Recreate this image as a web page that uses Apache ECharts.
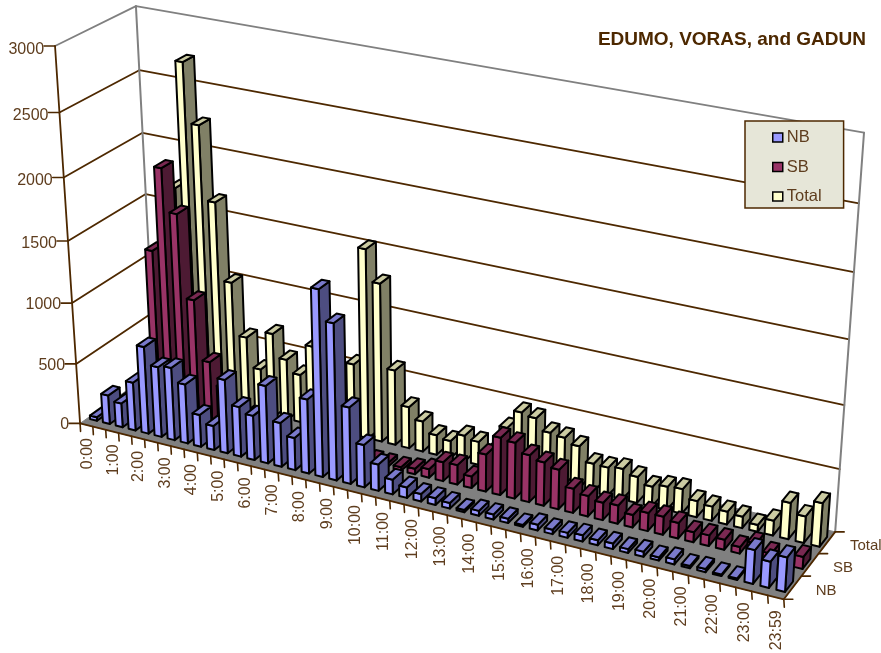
<!DOCTYPE html>
<html>
<head>
<meta charset="utf-8">
<script src="https://cdn.jsdelivr.net/npm/echarts@6/dist/echarts.min.js"></script>
<style>html,body{margin:0;padding:0;background:#fff}#main{width:881px;height:653px}</style>
</head>
<body>
<div id="main"></div>
<script>
var categories = ['0:00','0:30','1:00','1:30','2:00','2:30','3:00','3:30','4:00','4:30','5:00','5:30','6:00','6:30','7:00','7:30','8:00','8:30','9:00','9:30','10:00','10:30','11:00','11:30','12:00','12:30','13:00','13:30','14:00','14:30','15:00','15:30','16:00','16:30','17:00','17:30','18:00','18:30','19:00','19:30','20:00','20:30','21:00','21:30','22:00','22:30','23:00','23:30','23:59'];
var depthLabels = ['NB','SB','Total'];
var valueTicks = [0,500,1000,1500,2000,2500,3000];

var nbValues = [30,240,200,400,720,580,600,490,265,200,605,410,365,635,360,265,605,1500,1260,620,345,215,120,85,60,55,45,18,40,40,35,15,45,35,40,50,40,45,30,40,25,40,18,25,12,12,264,205,268];
var sbValues = [10,20,305,1340,2020,1680,1010,525,340,150,80,70,30,25,30,30,30,50,60,30,30,30,45,70,155,160,95,302,465,452,380,350,320,195,165,140,147,100,145,145,125,80,85,80,52,110,60,20,95];
var totalValues = [30,130,505,1720,2730,2260,1670,1040,610,368,690,500,400,660,390,300,590,1545,1295,617,342,250,162,142,213,190,135,360,512,492,402,389,347,233,230,247,211,160,188,198,130,115,103,92,55,119,290,212,346];

var textColor = '#5E3D1E';
var lineColor = '#4D2800';
var wallColor = '#808080';
var floorColor = '#808080';
var fontName = 'Liberation Sans, Arial, sans-serif';

// box corners on screen, used to fit the perspective
var corners = [
    [0,0,0,79,421],[1,0,0,784,601],[0,0,1,156,373],[1,0,1,835,530],
    [0,1,0,56,47],[0,1,1,135,5],[1,1,1,864,133]
];

function solve(A, b) {
    var n = b.length, i, j, k;
    for (i = 0; i < n; i++) {
        var p = i;
        for (j = i + 1; j < n; j++) if (Math.abs(A[j][i]) > Math.abs(A[p][i])) p = j;
        var t = A[i]; A[i] = A[p]; A[p] = t;
        t = b[i]; b[i] = b[p]; b[p] = t;
        for (j = i + 1; j < n; j++) {
            var f = A[j][i] / A[i][i];
            for (k = i; k < n; k++) A[j][k] -= f * A[i][k];
            b[j] -= f * b[i];
        }
    }
    var x = [];
    for (i = n - 1; i >= 0; i--) {
        var s = b[i];
        for (k = i + 1; k < n; k++) s -= A[i][k] * x[k];
        x[i] = s / A[i][i];
    }
    return x;
}

function fitCamera(pts) {
    var rows = [], rhs = [];
    pts.forEach(function (c) {
        rows.push([c[0], c[1], c[2], 1, 0, 0, 0, 0, -c[3] * c[0], -c[3] * c[1], -c[3] * c[2]]);
        rhs.push(c[3]);
        rows.push([0, 0, 0, 0, c[0], c[1], c[2], 1, -c[4] * c[0], -c[4] * c[1], -c[4] * c[2]]);
        rhs.push(c[4]);
    });
    var N = [], v = [];
    for (var i = 0; i < 11; i++) {
        N.push([]);
        v.push(0);
        for (var j = 0; j < 11; j++) {
            var s = 0;
            rows.forEach(function (r) { s += r[i] * r[j]; });
            N[i].push(s);
        }
        rows.forEach(function (r, k) { v[i] += r[i] * rhs[k]; });
    }
    return solve(N, v);
}
var cam = fitCamera(corners);

// u along time, h up, d into the chart; all 0..1
function project(u, h, d) {
    var w = cam[8] * u + cam[9] * h + cam[10] * d + 1;
    return [
        (cam[0] * u + cam[1] * h + cam[2] * d + cam[3]) / w,
        (cam[4] * u + cam[5] * h + cam[6] * d + cam[7]) / w
    ];
}

// hidden grid that supplies the scales
var G = { left: 0, top: 0, width: 490, height: 300 };

function poly(points, fill, stroke, lw) {
    return {
        type: 'polygon',
        shape: { points: points },
        style: { fill: fill, stroke: stroke, lineWidth: lw, lineJoin: 'round' }
    };
}
function seg(a, b, color, lw) {
    return {
        type: 'line',
        shape: { x1: a[0], y1: a[1], x2: b[0], y2: b[1] },
        style: { stroke: color, lineWidth: lw, lineCap: 'round' }
    };
}
function label(text, x, y, align, rot, size) {
    return {
        type: 'text',
        x: x, y: y, rotation: rot || 0,
        style: {
            text: text, fill: textColor, fontSize: size || 16,
            fontFamily: fontName,
            align: align, verticalAlign: 'middle'
        }
    };
}

function barRenderer(slot, front, side, top) {
    return function (params, api) {
        var i = api.value(0), v = api.value(1);
        var c = api.coord([i, v]);
        var band = api.size([1, 0])[0];
        var h = (G.top + G.height - c[1]) / G.height;
        var uc = (c[0] - G.left) / G.width;
        var du = band / G.width * 0.27;
        var u0 = uc - du, u1 = uc + du;
        var mid = (slot + 0.5) / depthLabels.length;
        var d0 = mid - 0.075, d1 = mid + 0.075;
        var a = project(u0, 0, d0), b = project(u1, 0, d0), e = project(u1, 0, d1);
        var at = project(u0, h, d0), bt = project(u1, h, d0), et = project(u1, h, d1), ft = project(u0, h, d1);
        return {
            type: 'group',
            children: [
                poly([b, e, et, bt], side, '#000', 2),
                poly([a, b, bt, at], front, '#000', 2),
                poly([at, bt, et, ft], top, '#000', 2)
            ]
        };
    };
}

function renderFrame(params, api) {
    var kids = [];
    // floor
    kids.push(poly([project(0,0,0), project(1,0,0), project(1,0,1), project(0,0,1)], floorColor, floorColor, 1));
    // gridlines on both walls
    valueTicks.forEach(function (t) {
        var h = (G.top + G.height - api.coord([0, t])[1]) / G.height;
        var col = t === 3000 ? wallColor : lineColor;
        if (t > 0) {
            kids.push(seg(project(0,h,0), project(0,h,1), col, 1.8));
            kids.push(seg(project(0,h,1), project(1,h,1), col, 1.8));
        }
    });
    kids.push(seg(project(0,0,1), project(0,1,1), wallColor, 2));
    kids.push(seg(project(1,0,1), project(1,1,1), wallColor, 2));
    // value axis
    kids.push(seg(project(0,0,0), project(0,1,0), lineColor, 1.8));
    valueTicks.forEach(function (t) {
        var h = (G.top + G.height - api.coord([0, t])[1]) / G.height;
        var p = project(0, h, 0);
        kids.push(seg([p[0] - 11, p[1]], p, lineColor, 1.6));
        kids.push(label(String(t), p[0] - 11, p[1] + 1 + 2.5 * h, 'right'));
    });
    // time axis
    kids.push(seg(project(0,0,0), project(1,0,0), lineColor, 1.8));
    for (var i = 0; i <= categories.length; i++) {
        var p = project(i / categories.length, 0, 0);
        kids.push(seg(p, [p[0] + 0.5, p[1] + 8], lineColor, 1.6));
    }
    categories.forEach(function (c, i) {
        if (i % 2 === 0) {
            var q = project((i + 0.5) / categories.length, 0, 0);
            kids.push(label(c, q[0] + 1, q[1] + 13, 'right', Math.PI / 2));
        }
    });
    // depth axis
    kids.push(seg(project(1,0,0), project(1,0,1), lineColor, 1.8));
    for (var k = 0; k <= depthLabels.length; k++) {
        var r = project(1, 0, k / depthLabels.length);
        kids.push(seg(r, [r[0] + 9, r[1]], lineColor, 1.6));
    }
    depthLabels.forEach(function (n, k) {
        var s = project(1, 0, (k + 0.5) / depthLabels.length);
        kids.push(label(n, s[0] + 23, s[1] + 3, 'left', 0, 15));
    });
    return { type: 'group', children: kids };
}

function pairs(values) {
    return values.map(function (v, i) { return [i, v]; });
}

var myChart = echarts.init(document.getElementById('main'));
var option = {
    animation: false,
    backgroundColor: '#fff',
    title: {
        text: 'EDUMO, VORAS, and GADUN',
        right: 10, top: 25,
        textStyle: { color: '#4D2800', fontSize: 19, fontWeight: 'bold', fontFamily: fontName }
    },
    legend: {
        data: depthLabels,
        orient: 'vertical',
        left: 745, top: 121,
        padding: [8, 22, 3, 27],
        itemGap: 12.5,
        itemWidth: 10, itemHeight: 9,
        icon: 'rect',
        selectedMode: false,
        backgroundColor: '#E6E6D8',
        borderColor: lineColor,
        borderWidth: 1.5,
        itemStyle: { borderColor: '#000', borderWidth: 1.5 },
        textStyle: { color: textColor, fontSize: 16.5, padding: [3, 0, 0, -1], fontFamily: fontName }
    },
    grid: G,
    xAxis: { type: 'category', data: categories, show: false },
    yAxis: { type: 'value', min: 0, max: 3000, interval: 500, show: false },
    series: [
        { type: 'custom', name: 'frame', coordinateSystem: 'cartesian2d', data: [[0, 0]], renderItem: renderFrame, silent: true, clip: false, z: 1 },
        { type: 'custom', name: 'Total', data: pairs(totalValues), renderItem: barRenderer(2, '#FFFFCC', '#808066', '#CCCCA3'), itemStyle: { color: '#FFFFCC' }, clip: false, z: 2 },
        { type: 'custom', name: 'SB', data: pairs(sbValues), renderItem: barRenderer(1, '#993366', '#4D1A33', '#7A2952'), itemStyle: { color: '#993366' }, clip: false, z: 3 },
        { type: 'custom', name: 'NB', data: pairs(nbValues), renderItem: barRenderer(0, '#9999FF', '#4D4D80', '#7A7ACC'), itemStyle: { color: '#9999FF' }, clip: false, z: 4 }
    ]
};
myChart.setOption(option);
</script>
</body>
</html>
